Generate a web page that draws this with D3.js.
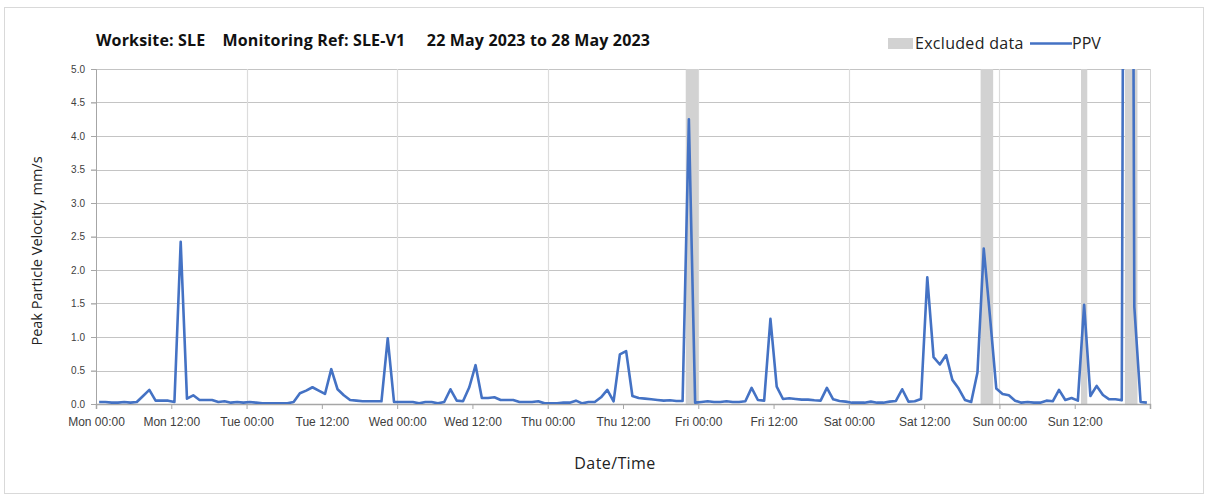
<!DOCTYPE html>
<html>
<head>
<meta charset="utf-8">
<script src="https://cdn.jsdelivr.net/npm/d3@7"></script>
<style>
  body { margin: 0; background: #fff; }
  svg { display: block; font-family: Lato, "Open Sans", sans-serif; }
</style>
</head>
<body>
<svg id="chart" width="1208" height="498"></svg>
<script>
"use strict";

const TITLE = "Worksite: SLE    Monitoring Ref: SLE-V1     22 May 2023 to 28 May 2023";
const START = new Date(2023, 4, 22, 0, 0);
const END = new Date(2023, 4, 29, 0, 0);

// hourly PPV readings (mm/s), one per hour from Mon 00:30
const ppv = [
  0.03, 0.03, 0.02, 0.02, 0.03, 0.02, 0.03, 0.12, 0.21, 0.05, 0.05, 0.05,
  0.03, 2.42, 0.08, 0.13, 0.06, 0.06, 0.06, 0.03, 0.04, 0.02, 0.03, 0.02,
  0.03, 0.02, 0.01, 0.01, 0.01, 0.01, 0.01, 0.03, 0.16, 0.2, 0.25, 0.2,
  0.15, 0.52, 0.22, 0.13, 0.06, 0.05, 0.04, 0.04, 0.04, 0.04, 0.98, 0.03,
  0.03, 0.03, 0.03, 0.01, 0.03, 0.03, 0.01, 0.03, 0.22, 0.05, 0.04, 0.25,
  0.58, 0.09, 0.09, 0.1, 0.06, 0.06, 0.06, 0.03, 0.03, 0.03, 0.04, 0.01,
  0.01, 0.01, 0.02, 0.02, 0.05, 0.01, 0.03, 0.03, 0.1, 0.21, 0.04, 0.74,
  0.79, 0.12, 0.09, 0.08, 0.07, 0.06, 0.05, 0.055, 0.045, 0.045, 4.25, 0.02,
  0.03, 0.04, 0.03, 0.03, 0.04, 0.03, 0.03, 0.04, 0.24, 0.06, 0.05, 1.27,
  0.26, 0.075, 0.085, 0.075, 0.065, 0.065, 0.055, 0.05, 0.24, 0.07, 0.045, 0.035,
  0.02, 0.02, 0.02, 0.035, 0.02, 0.02, 0.035, 0.045, 0.22, 0.035, 0.04, 0.075,
  1.89, 0.7, 0.59, 0.73, 0.36, 0.23, 0.06, 0.03, 0.47, 2.32, 1.3, 0.23,
  0.15, 0.13, 0.05, 0.02, 0.03, 0.02, 0.02, 0.05, 0.04, 0.21, 0.06, 0.09,
  0.05, 1.48, 0.12, 0.27, 0.135, 0.07, 0.07, 0.055, 30, 1.45, 0.03, 0.02
];

// excluded periods, hours from Mon 00:00
const excludedFrom = [94, 141, 157, 164];
const excludedTo = [96, 143, 158, 166];

const yTicks = [0, 0.5, 1, 1.5, 2, 2.5, 3, 3.5, 4, 4.5, 5];

const svg = d3.select("#chart");
const width = 1208, height = 498;
const margin = { left: 96, right: 58, top: 69, bottom: 94 };
const plotW = width - margin.left - margin.right;
const plotH = height - margin.top - margin.bottom;

const hoursToDate = (h) => new Date(START.getTime() + h * 3600 * 1000);
const data = ppv.map((v, i) => ({ t: hoursToDate(i + 0.5), v: v }));

const x = d3.scaleTime().domain([START, END]).range([0, plotW]);
const y = d3.scaleLinear().domain([0, 5]).range([plotH, 0]);

// outer frame
svg.append("rect")
  .attr("x", 4.5).attr("y", 7.5)
  .attr("width", width - 9).attr("height", height - 12)
  .attr("fill", "none").attr("stroke", "#d9d9d9");

svg.append("text")
  .attr("x", 96).attr("y", 46)
  .attr("font-family", "'Open Sans', sans-serif")
  .attr("font-size", 16).attr("font-weight", "bold").attr("fill", "#111")
  .attr("letter-spacing", 0.15)
  .attr("xml:space", "preserve")
  .text(TITLE);

const g = svg.append("g")
  .attr("transform", `translate(${margin.left},${margin.top})`);

g.append("clipPath").attr("id", "plot-clip")
  .append("rect").attr("width", plotW).attr("height", plotH);

// horizontal grid
g.append("g")
  .selectAll("line")
  .data(yTicks.slice(1))
  .join("line")
  .attr("x1", -5).attr("x2", plotW)
  .attr("y1", (d) => Math.round(y(d)) + 0.5)
  .attr("y2", (d) => Math.round(y(d)) + 0.5)
  .attr("stroke", "#c4c4c4").attr("stroke-width", 1.2);

// vertical grid at midnight
const days = d3.timeDay.range(d3.timeDay.offset(START, 1), END);
g.append("g")
  .selectAll("line")
  .data(days)
  .join("line")
  .attr("x1", (d) => Math.round(x(d)) + 0.5)
  .attr("x2", (d) => Math.round(x(d)) + 0.5)
  .attr("y1", 0).attr("y2", plotH)
  .attr("stroke", "#dcdcdc").attr("stroke-width", 1.2);

// right border
g.append("line")
  .attr("x1", plotW + 0.5).attr("x2", plotW + 0.5)
  .attr("y1", 0).attr("y2", plotH)
  .attr("stroke", "#d4d4d4");

// excluded data bands
g.append("g")
  .selectAll("rect")
  .data(excludedFrom.map((f, i) => [f, excludedTo[i]]))
  .join("rect")
  .attr("x", (d) => x(hoursToDate(d[0])))
  .attr("width", (d) => x(hoursToDate(d[1])) - x(hoursToDate(d[0])))
  .attr("y", 0).attr("height", plotH)
  .attr("fill", "#d2d2d2");

// axes
const yAxis = g.append("g")
  .call(d3.axisLeft(y).tickValues(yTicks).tickFormat(d3.format(".1f")).tickSize(5).tickPadding(6));
yAxis.select(".domain").attr("stroke", "#a6a6a6");
yAxis.selectAll(".tick line").attr("stroke", "#a6a6a6");
yAxis.selectAll("text").attr("font-size", 10).attr("fill", "#404040");

const xTicks = d3.timeHour.every(12).range(START, d3.timeHour.offset(END, 1));
const fmt = d3.timeFormat("%a %H:%M");
const xAxis = g.append("g")
  .attr("transform", `translate(0,${plotH})`)
  .call(d3.axisBottom(x).tickValues(xTicks)
    .tickFormat((d) => (+d === +END ? "" : fmt(d)))
    .tickSize(5).tickPadding(8));
xAxis.select(".domain").attr("stroke", "#a6a6a6").attr("stroke-width", 1.5);
xAxis.selectAll(".tick line").attr("stroke", "#a6a6a6");
xAxis.selectAll("text").attr("font-size", 12).attr("fill", "#404040");

// PPV line
const line = d3.line()
  .x((d) => x(d.t))
  .y((d) => y(d.v));

g.append("path")
  .datum(data)
  .attr("clip-path", "url(#plot-clip)")
  .attr("d", line)
  .attr("fill", "none")
  .attr("stroke", "#4472c4")
  .attr("stroke-width", 2.6)
  .attr("stroke-linejoin", "round");

// axis titles
svg.append("text")
  .attr("transform", "translate(42,251) rotate(-90)")
  .attr("text-anchor", "middle")
  .attr("font-family", "'Open Sans', sans-serif")
  .attr("font-size", 14.5).attr("fill", "#222")
  .text("Peak Particle Velocity, mm/s");

svg.append("text")
  .attr("x", 615).attr("y", 469)
  .attr("text-anchor", "middle")
  .attr("font-family", "'Open Sans', sans-serif")
  .attr("font-size", 16).attr("letter-spacing", 0.4).attr("fill", "#222")
  .text("Date/Time");

// legend
const legend = svg.append("g")
  .attr("transform", "translate(888,43)")
  .attr("font-family", "'Open Sans', sans-serif");
legend.append("rect")
  .attr("x", 0).attr("y", -5).attr("width", 25).attr("height", 11)
  .attr("fill", "#d2d2d2");
legend.append("text")
  .attr("x", 27).attr("y", 5.5)
  .attr("font-size", 16).attr("letter-spacing", 0.3).attr("fill", "#222")
  .text("Excluded data");
legend.append("line")
  .attr("x1", 142).attr("x2", 184).attr("y1", 0.5).attr("y2", 0.5)
  .attr("stroke", "#4472c4").attr("stroke-width", 2.6);
legend.append("text")
  .attr("x", 184).attr("y", 5.5)
  .attr("font-size", 16).attr("fill", "#222")
  .text("PPV");
</script>
</body>
</html>
